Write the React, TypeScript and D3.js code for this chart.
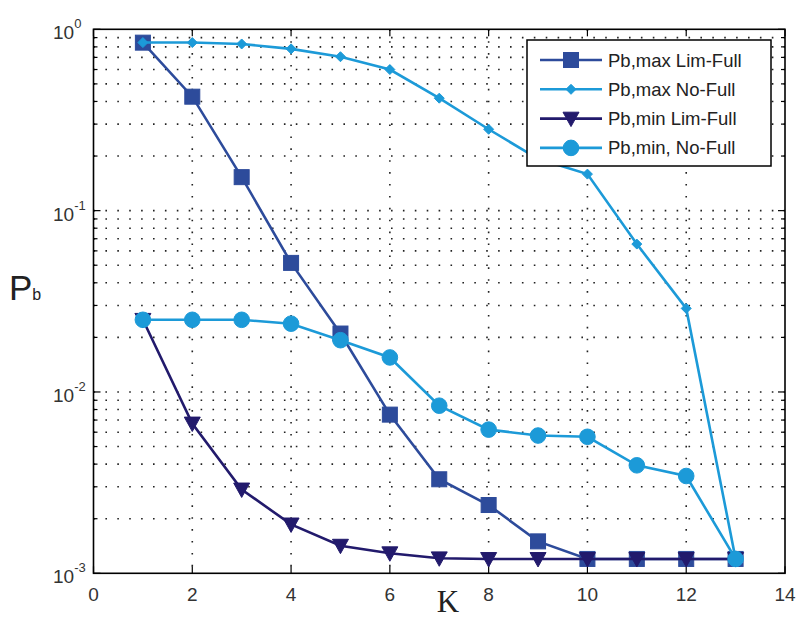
import * as d3 from "d3";

// K values (number of ...)
const K = [1, 2, 3, 4, 5, 6, 7, 8, 9, 10, 11, 12, 13];

const pbMaxLimFull = [0.844, 0.425, 0.153, 0.0515, 0.021, 0.0075, 0.0033, 0.00238, 0.0015, 0.0012, 0.0012, 0.0012, 0.0012];
const pbMaxNoFull = [0.845, 0.845, 0.83, 0.78, 0.706, 0.6, 0.417, 0.281, 0.193, 0.159, 0.0654, 0.0289, 0.0012];
const pbMinLimFull = [0.025, 0.0067, 0.0029, 0.00186, 0.00142, 0.00129, 0.00121, 0.0012, 0.0012, 0.0012, 0.0012, 0.0012, 0.0012];
const pbMinNoFull = [0.025, 0.025, 0.025, 0.0238, 0.0193, 0.0155, 0.0084, 0.0062, 0.00575, 0.00566, 0.00394, 0.00344, 0.0012];

const xTicks = [0, 2, 4, 6, 8, 10, 12, 14];
const yDecades = [-3, -2, -1, 0];

const series = [
  {name: "Pb,max Lim-Full", values: pbMaxLimFull, color: "#2d4b9b", marker: "square"},
  {name: "Pb,max No-Full", values: pbMaxNoFull, color: "#1c9ad8", marker: "diamond"},
  {name: "Pb,min Lim-Full", values: pbMinLimFull, color: "#221a6c", marker: "triangle"},
  {name: "Pb,min, No-Full", values: pbMinNoFull, color: "#1c9ad8", marker: "circle"},
];

const left = 93.5, right = 785, top = 29.3, bottom = 573.3;
const font = "'Liberation Sans', Arial, sans-serif";

const x = d3.scaleLinear().domain([0, 14]).range([left, right]);
const y = d3.scaleLog().domain([1e-3, 1]).range([bottom, top]);

function Marker({type, cx, cy, color}: {type: string; cx: number; cy: number; color: string}) {
  if (type === "square") {
    const s = 15;
    return <rect x={cx - s / 2} y={cy - s / 2} width={s} height={s} fill={color} stroke={color} />;
  }
  if (type === "diamond") {
    const s = 5;
    return <path d={`M${cx},${cy - s}L${cx + s},${cy}L${cx},${cy + s}L${cx - s},${cy}Z`} fill={color} stroke={color} />;
  }
  if (type === "triangle") {
    const s = 8;
    return <path d={`M${cx - s},${cy - s * 0.8}L${cx + s},${cy - s * 0.8}L${cx},${cy + s}Z`} fill={color} stroke={color} />;
  }
  return <circle cx={cx} cy={cy} r={7.8} fill={color} stroke={color} />;
}

export default function App() {
  const minorY: number[] = [];
  for (const d of [-3, -2, -1]) {
    for (let m = 2; m <= 9; m++) minorY.push(m * Math.pow(10, d));
  }
  const line = d3.line<number>().x((_, i) => x(K[i])).y((v) => y(v));

  return (
    <svg width={798} height={618} style={{position: "absolute", left: 0, top: 0, background: "#fff"}}>
      {/* grid */}
      <g stroke="#222" strokeWidth={1.6} strokeDasharray="1.6,10.3">
        {minorY.concat(yDecades.slice(1, 3).map((d) => Math.pow(10, d))).map((v, i) => (
          <line key={"gy" + i} x1={left} x2={right} y1={y(v)} y2={y(v)} />
        ))}
        {xTicks.slice(1, -1).map((t) => (
          <line key={"gx" + t} x1={x(t)} x2={x(t)} y1={top} y2={bottom} />
        ))}
      </g>
      {/* ticks */}
      <g stroke="#000" strokeWidth={1.2}>
        {xTicks.map((t) => (
          <g key={"tx" + t}>
            <line x1={x(t)} x2={x(t)} y1={bottom} y2={bottom - 7} />
            <line x1={x(t)} x2={x(t)} y1={top} y2={top + 7} />
          </g>
        ))}
        {minorY.map((v, i) => (
          <g key={"ty" + i}>
            <line x1={left} x2={left + 4} y1={y(v)} y2={y(v)} />
            <line x1={right} x2={right - 4} y1={y(v)} y2={y(v)} />
          </g>
        ))}
        {yDecades.map((d) => (
          <g key={"tyd" + d}>
            <line x1={left} x2={left + 7} y1={y(Math.pow(10, d))} y2={y(Math.pow(10, d))} />
            <line x1={right} x2={right - 7} y1={y(Math.pow(10, d))} y2={y(Math.pow(10, d))} />
          </g>
        ))}
      </g>
      {/* series */}
      {series.map((s) => (
        <g key={s.name}>
          <path d={line(s.values) || ""} fill="none" stroke={s.color} strokeWidth={2.6} />
          {s.values.map((v, i) => (
            <Marker key={i} type={s.marker} cx={x(K[i])} cy={y(v)} color={s.color} />
          ))}
        </g>
      ))}
      <rect x={left} y={top} width={right - left} height={bottom - top} fill="none" stroke="#000" strokeWidth={1.6} />
      {/* tick labels */}
      <g fontFamily={font} fontSize={19} fill="#333">
        {xTicks.map((t) => (
          <text key={"lx" + t} x={x(t)} y={bottom + 28} textAnchor="middle">{t}</text>
        ))}
        {yDecades.map((d) => (
          <text key={"ly" + d} x={53} y={y(Math.pow(10, d)) + 10}>
            10<tspan dy={-11} fontSize={13}>{d}</tspan>
          </text>
        ))}
      </g>
      {/* axis labels */}
      <text x={448} y={612} textAnchor="middle" fontFamily="'Liberation Serif', 'Times New Roman', serif" fontSize={31} fill="#222">K</text>
      <text x={9} y={300} fontFamily={font} fontSize={35} fill="#222">P<tspan fontSize={16} dy={0}>b</tspan></text>
      {/* legend */}
      <g>
        <rect x={527} y={40} width={244} height={126} fill="#fff" stroke="#000" strokeWidth={1.5} />
        {series.map((s, i) => {
          const ly = 60 + i * 29.3;
          return (
            <g key={"lg" + i}>
              <line x1={540} x2={602} y1={ly} y2={ly} stroke={s.color} strokeWidth={2.6} />
              <Marker type={s.marker} cx={571} cy={ly} color={s.color} />
              <text x={608} y={ly + 6.5} fontFamily={font} fontSize={18.5} fill="#222">{s.name}</text>
            </g>
          );
        })}
      </g>
    </svg>
  );
}
